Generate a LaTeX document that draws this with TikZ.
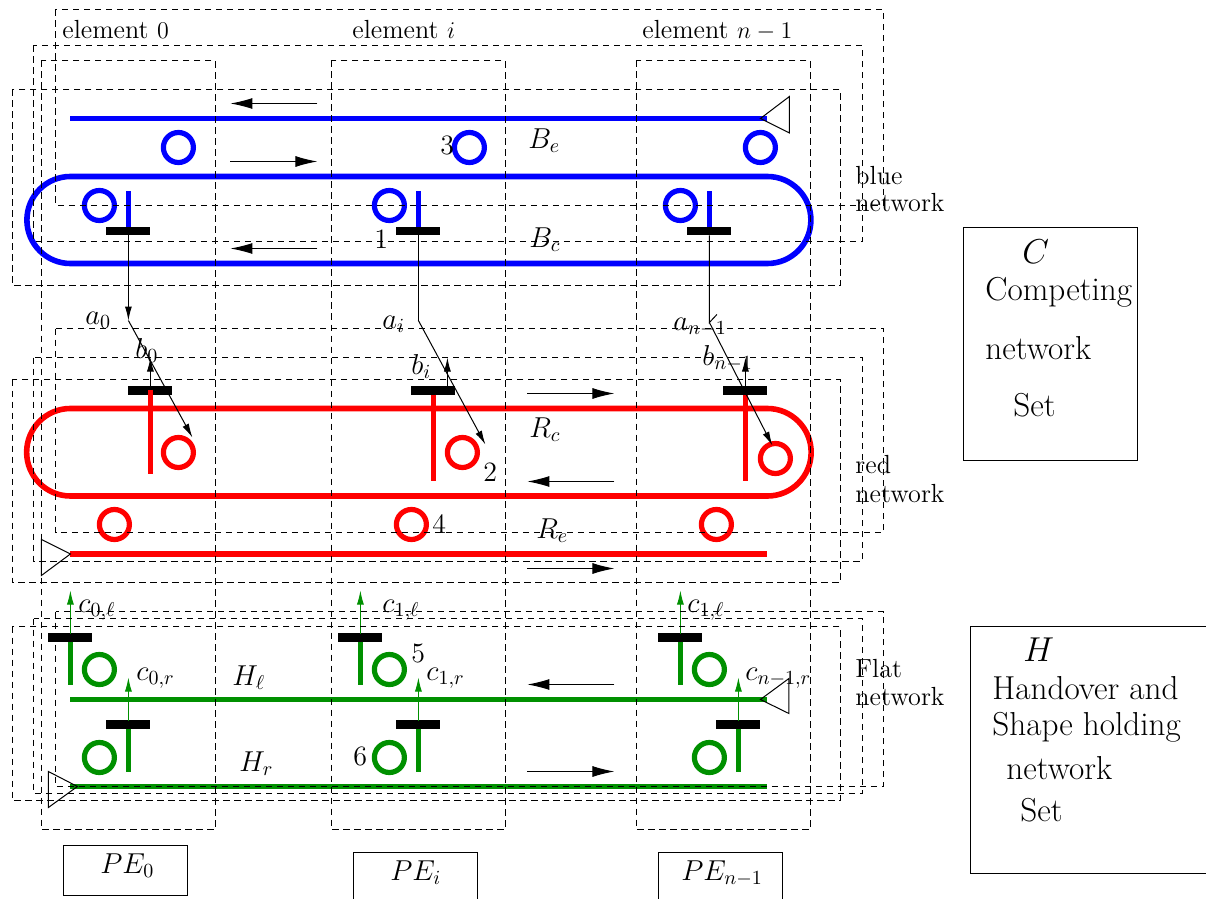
\documentclass[tikz,border=0pt]{standalone}
\usetikzlibrary{arrows.meta}
\definecolor{flatgreen}{RGB}{0,144,0}
\tikzset{
  dbox/.style={draw=black,line width=0.5pt,dash pattern=on 3.2pt off 2.3pt},
  thick line/.style={line width=2.8pt},
  circ/.style={line width=2.6pt},
  barline/.style={line width=4.2pt,black},
  flow/.style={line width=0.5pt,-{Latex[length=11pt,width=5.5pt]}},
  thin arrow/.style={line width=0.5pt,-{Latex[length=7pt,width=3.5pt]}},
  tri/.style={draw,line width=0.5pt,fill=none},
  plainbox/.style={draw,line width=0.5pt},
  lbl/.style={anchor=base west,inner sep=0pt,outer sep=0pt,font=\fontsize{13.1}{15}\selectfont},
  mlbl/.style={anchor=base west,inner sep=0pt,outer sep=0pt,font=\fontsize{14}{16}\selectfont},
  big/.style={anchor=base west,inner sep=0pt,outer sep=0pt,font=\fontsize{16.6}{19}\selectfont},
}
\begin{document}
\begin{tikzpicture}[x=0.5pt,y=-0.5pt]
\useasboundingbox (0,0) rectangle (1206,899);
\clip (0,0) rectangle (1206,899);
\begin{scope}[xshift=0.2pt,yshift=-0.25pt]
% blue
\draw[blue,thick line] (70,118)--(767,118);
\draw[blue,thick line] (70,263) arc[start angle=90,end angle=270,radius=43.5] -- (767,176) arc[start angle=270,end angle=450,radius=43.5] -- cycle;
\foreach \x/\y in {178/147,469/147,760/147,99/205,389/205,680/205}
  \draw[blue,circ] (\x,\y) circle[radius=15];
\foreach \x in {128,418,709}{
  \draw[blue,thick line] (\x,191)--(\x,230);
  \draw[barline] (\x-22,230.5)--(\x+22,230.5);
}
% red
\draw[red,thick line] (70,495.5) arc[start angle=90,end angle=270,radius=43.75] -- (767,408) arc[start angle=270,end angle=450,radius=43.75] -- cycle;
\draw[red,thick line] (70,553.5)--(767,553.5);
\foreach \x/\y in {178/452,462/452,775/458,114/524,411/524,716/524}
  \draw[red,circ] (\x,\y) circle[radius=15];
\foreach \x/\t/\b in {150/389/473,433/394/480,745/394/480}{
  \draw[barline] (\x-22,390)--(\x+22,390);
  \draw[red,thick line] (\x,\t)--(\x,\b);
}
% green
\draw[flatgreen,thick line] (70,699)--(767,699);
\draw[flatgreen,thick line] (70,786)--(767,786);
\foreach \x/\y in {99/669,389/669,709/669,99/757,389/757,709/757}
  \draw[flatgreen,circ] (\x,\y) circle[radius=15];
\foreach \x in {70,360,680}{
  \draw[barline] (\x-22,637)--(\x+22,637);
  \draw[flatgreen,thick line] (\x,641)--(\x,684);
  \coordinate (gu\x) at (\x,633); \coordinate (gv\x) at (\x,590);
  \draw[thin arrow,flatgreen] (gu\x)--(gv\x);
}
\foreach \x in {128,418,738}{
  \draw[barline] (\x-22,724)--(\x+22,724);
  \draw[flatgreen,thick line] (\x,728)--(\x,771);
  \coordinate (gr\x) at (\x,720); \coordinate (gs\x) at (\x,677);
  \draw[thin arrow,flatgreen] (gr\x)--(gs\x);
}
% dashed boxes
\foreach \a/\b in {41/215,331/505,636/810} \draw[dbox] (\a,60) rectangle (\b,829);
\foreach \t/\b in {9/205,328/532,611/786}   \draw[dbox] (55.5,\t) rectangle (883,\b);
\foreach \t/\b in {45/241,357/560.5,618/793} \draw[dbox] (33.5,\t) rectangle (862,\b);
\foreach \t/\b in {89/285,379/582,626/800}  \draw[dbox] (12,\t) rectangle (840,\b);
% triangles
\draw[tri] (760,118)--(789,96)--(789,132.5)--cycle;
\draw[tri] (70,553.5)--(41,539)--(41,575)--cycle;
\draw[tri] (760,699)--(788.5,678)--(788.5,713)--cycle;
\draw[tri] (77,786)--(48,771)--(48,807)--cycle;
% flow arrows
\foreach \a/\b/\y in {317/230/103,230/317/161,317/230/248,527/614/393,614/527/481,527/614/568,614/527/684,527/614/771}{
  \coordinate (fa\a\y) at (\a,\y); \coordinate (fb\a\y) at (\b,\y);
  \draw[flow] (fa\a\y)--(fb\a\y);
}
% signal connectors
\coordinate (s0) at (128,235); \coordinate (k0) at (128,320); \coordinate (e0) at (192,437);
\coordinate (s1) at (418,235); \coordinate (k1) at (418,320); \coordinate (e1) at (485,444);
\coordinate (s2) at (709,235); \coordinate (k2) at (709,322); \coordinate (e2) at (772,445);
\coordinate (t2) at (716.5,314);
\draw[thin arrow] (s0)--(k0);
\draw[line width=0.5pt] (s1)--(k1);
\draw[line width=0.5pt] (s2)--(k2)--(t2);
\foreach \i in {0,1,2} \draw[thin arrow] (k\i)--(e\i);
\coordinate (u0) at (150,386); \coordinate (v0) at (150,357);
\coordinate (u1) at (447,386); \coordinate (v1) at (447,357);
\coordinate (u2) at (745,386); \coordinate (v2) at (745,357);
\foreach \i in {0,1,2} \draw[thin arrow] (u\i)--(v\i);
% boxes
\node[plainbox,anchor=north west,minimum width=87pt,minimum height=116pt,inner sep=0pt] (cbox) at (963,227) {};
\draw[plainbox] (1206.5,626)--(970,626)--(970,873)--(1206.5,873);
\node[plainbox,anchor=north west,minimum width=62pt,minimum height=25pt,inner sep=0pt] (pea) at (63,844) {};
\node[plainbox,anchor=north west,minimum width=62pt,minimum height=25pt,inner sep=0pt] (peb) at (353,851) {};
\node[plainbox,anchor=north west,minimum width=62pt,minimum height=25pt,inner sep=0pt] (pec) at (658,851) {};
% labels
\node[lbl] (l1) at (62,38) {element $0$};
\node[lbl] (l2) at (352,38) {element $i$};
\node[lbl] (l3) at (642,38) {element $n-1$};
\node[mlbl] (n3) at (440,154) {3};
\node[mlbl] (be) at (528,148) {$B_e$};
\node[mlbl] (bc) at (529,247) {$B_c$};
\node[mlbl] (n1) at (374,248) {1};
\node[lbl] (blue1) at (855,184) {blue};
\node[lbl] (blue2) at (855,211) {network};
\node[lbl] (red1) at (855,473) {red};
\node[lbl] (red2) at (855,502) {network};
\node[lbl] (fl1) at (855,677) {Flat};
\node[lbl] (fl2) at (855,705) {network};
\node[mlbl] (a0) at (85,324) {$a_0$};
\node[mlbl] (b0) at (135,358) {$b_0$};
\node[mlbl] (ai) at (382,328) {$a_i$};
\node[mlbl] (bi) at (411,374) {$b_i$};
\node[mlbl] (an) at (673,330) {$a_{n-1}$};
\node[mlbl] (bn) at (702,365) {$b_{n-1}$};
\node[mlbl] (rc) at (529,437) {$R_c$};
\node[mlbl] (re) at (536,538) {$R_e$};
\node[mlbl] (n2) at (483,481) {2};
\node[mlbl] (n4) at (432,533) {4};
\node[mlbl] (n5) at (411,662) {5};
\node[mlbl] (n6) at (353,765) {6};
\node[mlbl] (c0l) at (78,612) {$c_{0,\ell}$};
\node[mlbl] (c1l) at (382,612) {$c_{1,\ell}$};
\node[mlbl] (c2l) at (687,612) {$c_{1,\ell}$};
\node[mlbl] (c0r) at (136,680) {$c_{0,r}$};
\node[mlbl] (c1r) at (426,680) {$c_{1,r}$};
\node[mlbl] (c2r) at (745,680) {$c_{n-1,r}$};
\node[mlbl] (hl) at (232,685) {$H_\ell$};
\node[mlbl] (hr) at (239,771) {$H_r$};
\node[mlbl] (p0) at (100,873) {$PE_0$};
\node[mlbl] (p1) at (390,880) {$PE_i$};
\node[mlbl] (p2) at (681,880) {$PE_{n-1}$};
\node[big] (c1) at (1022,263) {$C$};
\node[big] (c2) at (985,300) {Competing};
\node[big] (c3) at (985,359) {network};
\node[big] (c4) at (1013,416) {Set};
\node[big] (h1) at (1023,661) {$H$};
\node[big] (h2) at (992,699) {Handover and};
\node[big] (h3) at (992,735) {Shape holding};
\node[big] (h4) at (1006,779) {network};
\node[big] (h5) at (1020,821) {Set};
\end{scope}
\end{tikzpicture}
\end{document}
